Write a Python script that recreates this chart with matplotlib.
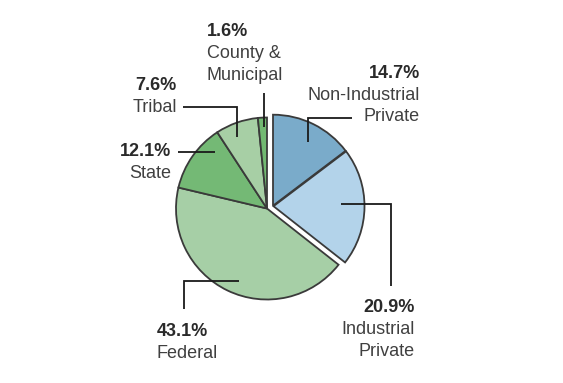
import matplotlib
matplotlib.use("Agg")
import matplotlib.pyplot as plt
import numpy as np

# Data
categories = ["Non-Industrial\nPrivate", "Industrial\nPrivate", "Federal", "State", "Tribal", "County &\nMunicipal"]
values = [14.7, 20.9, 43.1, 12.1, 7.6, 1.6]
pct_labels = ["14.7%", "20.9%", "43.1%", "12.1%", "7.6%", "1.6%"]
colors = ["#7aabca", "#b3d3ea", "#a6cfa6", "#74b975", "#a7cfa5", "#72b972"]

W, H = 563, 383
fig = plt.figure(figsize=(W / 100, H / 100), dpi=100)
ax = fig.add_axes([0, 0, 1, 1])

def Y(py):
    return H - py

cx, cy, r = 267, Y(208.5), 91
wedges, _ = ax.pie(values, colors=colors, startangle=90, counterclock=False,
                   radius=r, center=(cx, cy),
                   wedgeprops=dict(edgecolor="#3a3a3a", linewidth=1.3))
# private group pulled out along the group's bisector
for w in wedges[:2]:
    w.set_center((cx + 6.0, cy + 2.8))
# Industrial slightly further out
wedges[1].set_center((cx + 6.0 + 0.5, cy + 2.8 - 0.5))

ax.set_xlim(0, W)
ax.set_ylim(0, H)
ax.set_aspect("equal")
ax.axis("off")

lc = "#1a1a1a"
lw = 1.3
fs = 13
txt_c = "#404040"
bold_c = "#2a2a2a"
fam = ["Liberation Sans", "DejaVu Sans"]

def lines(pts):
    xs = [p[0] for p in pts]
    ys = [Y(p[1]) for p in pts]
    ax.plot(xs, ys, color=lc, lw=lw, solid_capstyle="butt", solid_joinstyle="miter")

def label(x, y_pct, i, ha):
    ax.text(x, Y(y_pct), pct_labels[i], ha=ha, va="center", fontsize=fs,
            fontweight="bold", color=bold_c, family=fam)
    for k, ln in enumerate(categories[i].split("\n")):
        ax.text(x, Y(y_pct + 22 + 21.5 * k), ln, ha=ha, va="center", fontsize=fs,
                color=txt_c, family=fam)

# Non-Industrial Private
lines([(308, 142), (308, 117.5), (352, 117.5)])
label(420, 73, 0, "right")
# Industrial Private
lines([(341, 203.5), (391, 203.5), (391, 286)])
label(415, 308, 1, "right")
# Federal
lines([(239, 280.5), (183.5, 280.5), (183.5, 309)])
label(157, 331, 2, "left")
# State
lines([(178, 152), (215, 152)])
label(171, 152, 3, "right")
# Tribal
lines([(183, 107), (236.5, 107), (236.5, 137)])
label(177, 86, 4, "right")
# County & Municipal
lines([(263.5, 93), (263.5, 127)])
label(207, 32, 5, "left")

fig.savefig("out.png", dpi=100, facecolor="white")
